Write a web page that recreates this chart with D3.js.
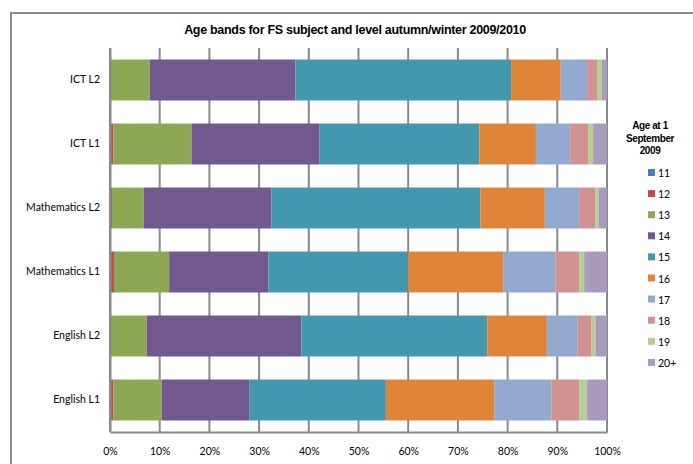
<!DOCTYPE html>
<html>
<head>
<meta charset="utf-8">
<script src="https://cdn.jsdelivr.net/npm/d3@7"></script>
<style>
  body { margin: 0; background: #fff; }
  .canvas svg { display: block; }
</style>
</head>
<body>
<div class="canvas"></div>
<script>
// data (percent of learners per age band)
const subjects = ['ICT L2', 'ICT L1', 'Mathematics L2', 'Mathematics L1', 'English L2', 'English L1'];
const ages = ['11', '12', '13', '14', '15', '16', '17', '18', '19', '20+'];

const age11 = [0, 0, 0, 0, 0, 0];
const age12 = [0, 0.7, 0.4, 0.8, 0, 0.7];
const age13 = [8.0, 15.7, 6.4, 11.1, 7.4, 9.7];
const age14 = [29.3, 25.7, 25.7, 20.0, 31.1, 17.7];
const age15 = [43.4, 32.2, 42.0, 28.1, 37.4, 27.4];
const age16 = [10.0, 11.4, 13.0, 19.1, 12.0, 21.8];
const age17 = [5.3, 6.9, 6.9, 10.5, 6.2, 11.5];
const age18 = [2.0, 3.6, 3.3, 4.8, 2.8, 5.6];
const age19 = [1.0, 1.0, 0.6, 1.0, 0.8, 1.6];
const age20 = [1.0, 2.8, 1.7, 4.6, 2.3, 4.0];

const xTicks = [0, 10, 20, 30, 40, 50, 60, 70, 80, 90, 100];

const colours = ['#4a7ebb', '#be4b48', '#8da754', '#71588f', '#4398af',
                 '#de8539', '#93a9cf', '#d09391', '#b9cd96', '#a99bbd'];

// build rows for the stack
const series = [age11, age12, age13, age14, age15, age16, age17, age18, age19, age20];
const rows = subjects.map((s, i) => {
    const r = { subject: s };
    ages.forEach((a, j) => r[a] = series[j][i]);
    return r;
});

// svg
const svg = d3.select('.canvas')
    .append('svg')
    .attr('width', 693)
    .attr('height', 464);

// outer chart frame
svg.append('rect')
    .attr('x', 11)
    .attr('y', 13)
    .attr('width', 700)
    .attr('height', 470)
    .attr('fill', '#fff')
    .attr('stroke', '#8c8c8c')
    .attr('stroke-width', 2);

// title
svg.append('text')
    .attr('x', 355)
    .attr('y', 34)
    .attr('text-anchor', 'middle')
    .style('font-family', '"Liberation Sans", Arial, sans-serif')
    .style('font-weight', 'bold')
    .style('font-size', '12.5px')
    .style('letter-spacing', '-0.3px')
    .text('Age bands for FS subject and level autumn/winter 2009/2010');

// scales
const x = d3.scaleLinear()
    .domain([0, 100])
    .range([110, 607]);

const y = d3.scaleBand()
    .domain(subjects)
    .range([48, 432])
    .paddingInner(0.36)
    .paddingOuter(0.18);

// gridlines
svg.append('g')
    .selectAll('line')
    .data(xTicks)
    .enter()
    .append('line')
    .attr('x1', d => x(d))
    .attr('x2', d => x(d))
    .attr('y1', 48)
    .attr('y2', 432)
    .attr('stroke', '#8a8a8a')
    .attr('stroke-width', 2);

// stacked bars
const stack = d3.stack().keys(ages);
const layers = stack(rows);

svg.append('g')
    .selectAll('g')
    .data(layers)
    .enter()
    .append('g')
    .attr('fill', (d, i) => colours[i])
    .selectAll('rect')
    .data(d => d)
    .enter()
    .append('rect')
    .attr('x', d => x(d[0]))
    .attr('y', d => y(d.data.subject))
    .attr('width', d => x(d[1]) - x(d[0]))
    .attr('height', y.bandwidth());

// axes
const xAxis = d3.axisBottom(x)
    .tickValues(xTicks)
    .tickSize(0)
    .tickPadding(16)
    .tickFormat(d => d + '%');

const yAxis = d3.axisLeft(y)
    .tickSize(0)
    .tickPadding(10);

const xAxisGroup = svg.append('g')
    .attr('transform', 'translate(0, 432)')
    .call(xAxis);

const yAxisGroup = svg.append('g')
    .attr('transform', 'translate(110, 0)')
    .call(yAxis);

[xAxisGroup, yAxisGroup].forEach(g => {
    g.select('.domain').attr('stroke', '#8a8a8a').attr('stroke-width', 2);
    g.selectAll('text')
        .attr('fill', '#000')
        .style('font-family', 'Lato, "Open Sans", sans-serif')
        .style('font-size', '10.5px');
});

// legend
const legend = svg.append('g');

legend.append('text')
    .attr('text-anchor', 'middle')
    .style('font-family', '"Liberation Sans", Arial, sans-serif')
    .style('font-weight', 'bold')
    .style('font-size', '10px')
    .style('letter-spacing', '-0.4px')
    .selectAll('tspan')
    .data(['Age at 1', 'September', '2009'])
    .enter()
    .append('tspan')
    .attr('x', 650)
    .attr('y', (d, i) => 129 + i * 12.5)
    .text(d => d);

const items = legend.selectAll('g.item')
    .data(ages)
    .enter()
    .append('g')
    .attr('class', 'item')
    .attr('transform', (d, i) => `translate(648, ${173 + i * 21.1})`);

items.append('rect')
    .attr('x', 0)
    .attr('y', -4)
    .attr('width', 7)
    .attr('height', 7)
    .attr('fill', (d, i) => colours[i]);

items.append('text')
    .attr('x', 10)
    .attr('y', 4)
    .style('font-family', 'Lato, "Open Sans", sans-serif')
    .style('font-size', '10.5px')
    .text(d => d);
</script>
</body>
</html>
